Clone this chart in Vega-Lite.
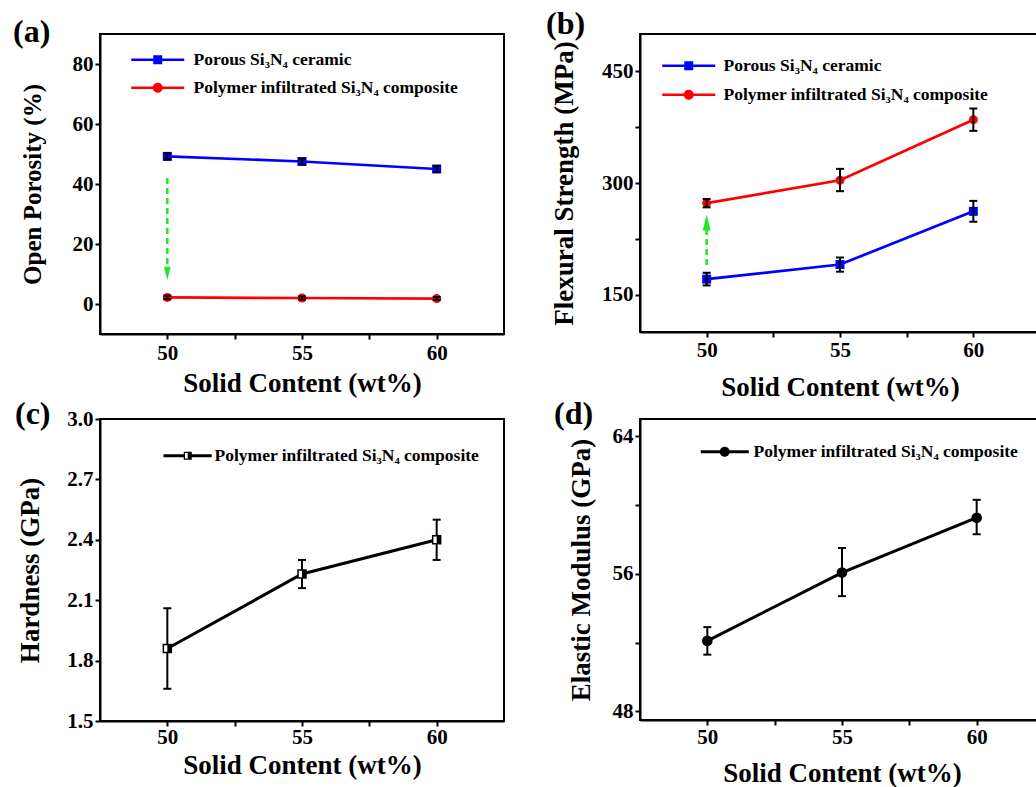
{
  "$schema": "https://vega.github.io/schema/vega-lite/v6.json",
  "background": "white",
  "autosize": {"type": "pad"},
  "padding": {"left": 12, "top": 7, "right": 0, "bottom": 0},
  "columns": 2,
  "spacing": {"row": 85, "column": 136},
  "bounds": "flush",
  "datasets": {
    "pa": [
      {"x": 50, "y": 49.2, "lo": 48.2, "hi": 50.2, "s": "Porous Si₃N₄ ceramic"},
      {"x": 55, "y": 47.5, "lo": 46.6, "hi": 48.4, "s": "Porous Si₃N₄ ceramic"},
      {"x": 60, "y": 45.0, "lo": 44.0, "hi": 46.0, "s": "Porous Si₃N₄ ceramic"},
      {"x": 50, "y": 2.2, "lo": 1.6, "hi": 2.8, "s": "Polymer infiltrated Si₃N₄ composite"},
      {"x": 55, "y": 2.0, "lo": 1.5, "hi": 2.5, "s": "Polymer infiltrated Si₃N₄ composite"},
      {"x": 60, "y": 1.8, "lo": 1.3, "hi": 2.3, "s": "Polymer infiltrated Si₃N₄ composite"}
    ],
    "arrA": [{"x": 50, "y1": 42, "y2": 13, "head": 10.2}],
    "pb": [
      {"x": 50, "y": 171, "lo": 162.5, "hi": 179.5, "s": "Porous Si₃N₄ ceramic"},
      {"x": 55, "y": 190.6, "lo": 181, "hi": 200, "s": "Porous Si₃N₄ ceramic"},
      {"x": 60, "y": 262, "lo": 248, "hi": 276, "s": "Porous Si₃N₄ ceramic"},
      {"x": 50, "y": 273, "lo": 267.3, "hi": 278.5, "s": "Polymer infiltrated Si₃N₄ composite"},
      {"x": 55, "y": 303.7, "lo": 289, "hi": 319, "s": "Polymer infiltrated Si₃N₄ composite"},
      {"x": 60, "y": 385, "lo": 370, "hi": 400, "s": "Polymer infiltrated Si₃N₄ composite"}
    ],
    "arrB": [{"x": 50, "y1": 190, "y2": 240, "head": 247}],
    "pc": [
      {"x": 50, "y": 1.86, "lo": 1.66, "hi": 2.06, "s": "Polymer infiltrated Si₃N₄ composite"},
      {"x": 55, "y": 2.23, "lo": 2.16, "hi": 2.30, "s": "Polymer infiltrated Si₃N₄ composite"},
      {"x": 60, "y": 2.40, "lo": 2.30, "hi": 2.50, "s": "Polymer infiltrated Si₃N₄ composite"}
    ],
    "pd": [
      {"x": 50, "y": 52.1, "lo": 51.3, "hi": 52.9, "s": "Polymer infiltrated Si₃N₄ composite"},
      {"x": 55, "y": 56.07, "lo": 54.7, "hi": 57.5, "s": "Polymer infiltrated Si₃N₄ composite"},
      {"x": 60, "y": 59.26, "lo": 58.3, "hi": 60.3, "s": "Polymer infiltrated Si₃N₄ composite"}
    ]
  },
  "resolve": {"scale": {"color": "independent", "fill": "independent"}, "legend": {"color": "independent", "fill": "independent"}},
  "concat": [
    {
      "width": 404, "height": 300,
      "title": {"text": "(a)", "anchor": "start", "frame": "group", "orient": "top", "offset": -40, "dx": -87, "baseline": "alphabetic"},
      "data": {"name": "pa"},
      "layer": [
        {
          "transform": [{"filter": {"field": "s", "equal": "Porous Si₃N₄ ceramic"}}],
          "mark": {"type": "line", "strokeWidth": 2.7, "color": "#0000ff"},
          "encoding": {
            "x": {"field": "x", "type": "quantitative", "scale": {"domain": [47.5, 62.5], "nice": false, "zero": false},
              "axis": {"values": [50, 52.5, 55, 57.5, 60], "labelExpr": "datum.value % 5 === 0 ? datum.label : ''", "title": "Solid Content (wt%)", "titleFontSize": 27, "titlePadding": 7, "labelPadding": 3,
                "encode": {"ticks": {"y2": {"value": {"expr": "datum.value % 5 === 0 ? 5 : 3"}}}}}},
            "y": {"field": "y", "type": "quantitative", "scale": {"domain": [-10, 90], "nice": false, "zero": false},
              "axis": {"values": [0, 10, 20, 30, 40, 50, 60, 70, 80], "labelExpr": "datum.value % 20 === 0 ? datum.label : ''", "title": "Open Porosity (%)", "titleFontSize": 25, "titlePadding": 27, "labelPadding": 2,
                "encode": {"ticks": {"x2": {"value": {"expr": "datum.value % 20 === 0 ? -5 : -3"}}}}}}
          }
        },
        {
          "transform": [{"filter": {"field": "s", "equal": "Polymer infiltrated Si₃N₄ composite"}}],
          "mark": {"type": "line", "strokeWidth": 2.7, "color": "#ff0000"},
          "encoding": {
            "x": {"field": "x", "type": "quantitative", "scale": {"domain": [47.5, 62.5], "nice": false, "zero": false}},
            "y": {"field": "y", "type": "quantitative", "scale": {"domain": [-10, 90], "nice": false, "zero": false}}
          }
        },
        {
          "transform": [{"filter": {"field": "s", "equal": "Porous Si₃N₄ ceramic"}}],
          "mark": {"type": "point", "filled": true, "shape": "square", "size": 81, "opacity": 1},
          "encoding": {
            "x": {"field": "x", "type": "quantitative", "scale": {"domain": [47.5, 62.5], "nice": false, "zero": false}},
            "y": {"field": "y", "type": "quantitative", "scale": {"domain": [-10, 90], "nice": false, "zero": false}},
            "fill": {"field": "s", "type": "nominal", "scale": {"domain": ["Porous Si₃N₄ ceramic"], "range": ["#0000ff"]},
              "legend": {"orient": "none", "legendX": 49, "legendY": 17, "title": null, "symbolSize": 100, "labelOffset": 27,
                "symbolType": "M-5.3,-0.25H5.3V0.25H-5.3Z M-0.9,-0.9H0.9V0.9H-0.9Z"}}
          }
        },
        {
          "transform": [{"filter": {"field": "s", "equal": "Polymer infiltrated Si₃N₄ composite"}}],
          "mark": {"type": "point", "filled": true, "shape": "circle", "size": 81, "opacity": 1},
          "encoding": {
            "x": {"field": "x", "type": "quantitative", "scale": {"domain": [47.5, 62.5], "nice": false, "zero": false}},
            "y": {"field": "y", "type": "quantitative", "scale": {"domain": [-10, 90], "nice": false, "zero": false}},
            "color": {"field": "s", "type": "nominal", "scale": {"domain": ["Polymer infiltrated Si₃N₄ composite"], "range": ["#ff0000"]},
              "legend": {"orient": "none", "legendX": 49, "legendY": 45, "title": null, "symbolSize": 100, "labelOffset": 27,
                "symbolType": "M-5.3,-0.25H5.3V0.25H-5.3Z M-1,0A1,1,0,1,1,1,0A1,1,0,1,1,-1,0Z"}}
          }
        },
        {
          "mark": {"type": "rule", "color": "black", "strokeWidth": 2},
          "encoding": {
            "x": {"field": "x", "type": "quantitative", "scale": {"domain": [47.5, 62.5], "nice": false, "zero": false}},
            "y": {"field": "lo", "type": "quantitative", "scale": {"domain": [-10, 90], "nice": false, "zero": false}},
            "y2": {"field": "hi"}
          }
        },
        {
          "mark": {"type": "tick", "color": "black", "thickness": 2, "size": 8, "orient": "horizontal", "opacity": 1},
          "encoding": {
            "x": {"field": "x", "type": "quantitative", "scale": {"domain": [47.5, 62.5], "nice": false, "zero": false}},
            "y": {"field": "lo", "type": "quantitative", "scale": {"domain": [-10, 90], "nice": false, "zero": false}}
          }
        },
        {
          "mark": {"type": "tick", "color": "black", "thickness": 2, "size": 8, "orient": "horizontal", "opacity": 1},
          "encoding": {
            "x": {"field": "x", "type": "quantitative", "scale": {"domain": [47.5, 62.5], "nice": false, "zero": false}},
            "y": {"field": "hi", "type": "quantitative", "scale": {"domain": [-10, 90], "nice": false, "zero": false}}
          }
        },
        {
          "data": {"name": "arrA"},
          "mark": {"type": "rule", "color": "#22e622", "strokeWidth": 2.5, "strokeDash": [6, 4]},
          "encoding": {
            "x": {"field": "x", "type": "quantitative", "scale": {"domain": [47.5, 62.5], "nice": false, "zero": false}},
            "y": {"field": "y1", "type": "quantitative", "scale": {"domain": [-10, 90], "nice": false, "zero": false}},
            "y2": {"field": "y2"}
          }
        },
        {
          "data": {"name": "arrA"},
          "mark": {"type": "point", "filled": true, "shape": "M-0.5,-1L0.5,-1L0,1Z", "size": 177, "color": "#22e622", "opacity": 1},
          "encoding": {
            "x": {"field": "x", "type": "quantitative", "scale": {"domain": [47.5, 62.5], "nice": false, "zero": false}},
            "y": {"field": "head", "type": "quantitative", "scale": {"domain": [-10, 90], "nice": false, "zero": false}}
          }
        }
      ]
    },
    {
      "width": 400, "height": 298,
      "title": {"text": "(b)", "anchor": "start", "frame": "group", "orient": "top", "offset": -32, "dx": -94, "baseline": "alphabetic"},
      "data": {"name": "pb"},
      "layer": [
        {
          "transform": [{"filter": {"field": "s", "equal": "Porous Si₃N₄ ceramic"}}],
          "mark": {"type": "line", "strokeWidth": 2.7, "color": "#0000ff"},
          "encoding": {
            "x": {"field": "x", "type": "quantitative", "scale": {"domain": [47.5, 62.5], "nice": false, "zero": false},
              "axis": {"values": [50, 52.5, 55, 57.5, 60], "labelExpr": "datum.value % 5 === 0 ? datum.label : ''", "title": "Solid Content (wt%)", "titleFontSize": 27, "titlePadding": 14, "labelPadding": 2,
                "encode": {"ticks": {"y2": {"value": {"expr": "datum.value % 5 === 0 ? 5 : 3"}}}}}},
            "y": {"field": "y", "type": "quantitative", "scale": {"domain": [100, 500], "nice": false, "zero": false},
              "axis": {"values": [150, 225, 300, 375, 450], "labelExpr": "datum.value % 150 === 0 ? datum.label : ''", "title": "Flexural Strength (MPa)", "titleFontSize": 27, "titlePadding": 23, "labelPadding": 2,
                "encode": {"ticks": {"x2": {"value": {"expr": "datum.value % 150 === 0 ? -5 : -3"}}}}}}
          }
        },
        {
          "transform": [{"filter": {"field": "s", "equal": "Polymer infiltrated Si₃N₄ composite"}}],
          "mark": {"type": "line", "strokeWidth": 2.7, "color": "#ff0000"},
          "encoding": {
            "x": {"field": "x", "type": "quantitative", "scale": {"domain": [47.5, 62.5], "nice": false, "zero": false}},
            "y": {"field": "y", "type": "quantitative", "scale": {"domain": [100, 500], "nice": false, "zero": false}}
          }
        },
        {
          "transform": [{"filter": {"field": "s", "equal": "Porous Si₃N₄ ceramic"}}],
          "mark": {"type": "point", "filled": true, "shape": "square", "size": 81, "opacity": 1},
          "encoding": {
            "x": {"field": "x", "type": "quantitative", "scale": {"domain": [47.5, 62.5], "nice": false, "zero": false}},
            "y": {"field": "y", "type": "quantitative", "scale": {"domain": [100, 500], "nice": false, "zero": false}},
            "fill": {"field": "s", "type": "nominal", "scale": {"domain": ["Porous Si₃N₄ ceramic"], "range": ["#0000ff"]},
              "legend": {"orient": "none", "legendX": 40, "legendY": 23, "title": null, "symbolSize": 100, "labelOffset": 26,
                "symbolType": "M-5.3,-0.25H5.3V0.25H-5.3Z M-0.9,-0.9H0.9V0.9H-0.9Z"}}
          }
        },
        {
          "transform": [{"filter": {"field": "s", "equal": "Polymer infiltrated Si₃N₄ composite"}}],
          "mark": {"type": "point", "filled": true, "shape": "circle", "size": 81, "opacity": 1},
          "encoding": {
            "x": {"field": "x", "type": "quantitative", "scale": {"domain": [47.5, 62.5], "nice": false, "zero": false}},
            "y": {"field": "y", "type": "quantitative", "scale": {"domain": [100, 500], "nice": false, "zero": false}},
            "color": {"field": "s", "type": "nominal", "scale": {"domain": ["Polymer infiltrated Si₃N₄ composite"], "range": ["#ff0000"]},
              "legend": {"orient": "none", "legendX": 40, "legendY": 52, "title": null, "symbolSize": 100, "labelOffset": 26,
                "symbolType": "M-5.3,-0.25H5.3V0.25H-5.3Z M-1,0A1,1,0,1,1,1,0A1,1,0,1,1,-1,0Z"}}
          }
        },
        {
          "mark": {"type": "rule", "color": "black", "strokeWidth": 2},
          "encoding": {
            "x": {"field": "x", "type": "quantitative", "scale": {"domain": [47.5, 62.5], "nice": false, "zero": false}},
            "y": {"field": "lo", "type": "quantitative", "scale": {"domain": [100, 500], "nice": false, "zero": false}},
            "y2": {"field": "hi"}
          }
        },
        {
          "mark": {"type": "tick", "color": "black", "thickness": 2, "size": 8, "orient": "horizontal", "opacity": 1},
          "encoding": {
            "x": {"field": "x", "type": "quantitative", "scale": {"domain": [47.5, 62.5], "nice": false, "zero": false}},
            "y": {"field": "lo", "type": "quantitative", "scale": {"domain": [100, 500], "nice": false, "zero": false}}
          }
        },
        {
          "mark": {"type": "tick", "color": "black", "thickness": 2, "size": 8, "orient": "horizontal", "opacity": 1},
          "encoding": {
            "x": {"field": "x", "type": "quantitative", "scale": {"domain": [47.5, 62.5], "nice": false, "zero": false}},
            "y": {"field": "hi", "type": "quantitative", "scale": {"domain": [100, 500], "nice": false, "zero": false}}
          }
        },
        {
          "data": {"name": "arrB"},
          "mark": {"type": "rule", "color": "#22e622", "strokeWidth": 2.5, "strokeDash": [6, 4]},
          "encoding": {
            "x": {"field": "x", "type": "quantitative", "scale": {"domain": [47.5, 62.5], "nice": false, "zero": false}},
            "y": {"field": "y1", "type": "quantitative", "scale": {"domain": [100, 500], "nice": false, "zero": false}},
            "y2": {"field": "y2"}
          }
        },
        {
          "data": {"name": "arrB"},
          "mark": {"type": "point", "filled": true, "shape": "M-0.5,1L0.5,1L0,-1Z", "size": 250, "color": "#22e622", "opacity": 1},
          "encoding": {
            "x": {"field": "x", "type": "quantitative", "scale": {"domain": [47.5, 62.5], "nice": false, "zero": false}},
            "y": {"field": "head", "type": "quantitative", "scale": {"domain": [100, 500], "nice": false, "zero": false}}
          }
        }
      ]
    },
    {
      "width": 404, "height": 302,
      "title": {"text": "(c)", "anchor": "start", "frame": "group", "orient": "top", "offset": -48, "dx": -85, "baseline": "alphabetic"},
      "data": {"name": "pc"},
      "layer": [
        {
          "mark": {"type": "line", "strokeWidth": 3, "color": "black"},
          "encoding": {
            "x": {"field": "x", "type": "quantitative", "scale": {"domain": [47.5, 62.5], "nice": false, "zero": false},
              "axis": {"values": [50, 52.5, 55, 57.5, 60], "labelExpr": "datum.value % 5 === 0 ? datum.label : ''", "title": "Solid Content (wt%)", "titleFontSize": 27, "titlePadding": 5, "labelPadding": 0,
                "encode": {"ticks": {"y2": {"value": {"expr": "datum.value % 5 === 0 ? 5 : 3"}}}}}},
            "y": {"field": "y", "type": "quantitative", "scale": {"domain": [1.5, 3.0], "nice": false, "zero": false},
              "axis": {"values": [1.5, 1.65, 1.8, 1.95, 2.1, 2.25, 2.4, 2.55, 2.7, 2.85, 3.0], "labelExpr": "round(datum.value * 100) % 30 === 0 ? format(datum.value, '.1f') : ''", "title": "Hardness (GPa)", "titleFontSize": 27, "titlePadding": 22, "labelPadding": 2,
                "encode": {"ticks": {"x2": {"value": {"expr": "round(datum.value * 100) % 30 === 0 ? -5 : -3"}}}}}}
          }
        },
        {
          "mark": {"type": "rule", "color": "black", "strokeWidth": 2},
          "encoding": {
            "x": {"field": "x", "type": "quantitative", "scale": {"domain": [47.5, 62.5], "nice": false, "zero": false}},
            "y": {"field": "lo", "type": "quantitative", "scale": {"domain": [1.5, 3.0], "nice": false, "zero": false}},
            "y2": {"field": "hi"}
          }
        },
        {
          "mark": {"type": "tick", "color": "black", "thickness": 2, "size": 8, "orient": "horizontal", "opacity": 1},
          "encoding": {
            "x": {"field": "x", "type": "quantitative", "scale": {"domain": [47.5, 62.5], "nice": false, "zero": false}},
            "y": {"field": "lo", "type": "quantitative", "scale": {"domain": [1.5, 3.0], "nice": false, "zero": false}}
          }
        },
        {
          "mark": {"type": "tick", "color": "black", "thickness": 2, "size": 8, "orient": "horizontal", "opacity": 1},
          "encoding": {
            "x": {"field": "x", "type": "quantitative", "scale": {"domain": [47.5, 62.5], "nice": false, "zero": false}},
            "y": {"field": "hi", "type": "quantitative", "scale": {"domain": [1.5, 3.0], "nice": false, "zero": false}}
          }
        },
        {
          "mark": {"type": "point", "shape": "square", "filled": true, "fill": "white", "stroke": "black", "strokeWidth": 1.5, "size": 64, "opacity": 1},
          "encoding": {
            "x": {"field": "x", "type": "quantitative", "scale": {"domain": [47.5, 62.5], "nice": false, "zero": false}},
            "y": {"field": "y", "type": "quantitative", "scale": {"domain": [1.5, 3.0], "nice": false, "zero": false}}
          }
        },
        {
          "mark": {"type": "point", "shape": "M0,-1H1V1H0Z", "filled": true, "size": 64, "opacity": 1},
          "encoding": {
            "x": {"field": "x", "type": "quantitative", "scale": {"domain": [47.5, 62.5], "nice": false, "zero": false}},
            "y": {"field": "y", "type": "quantitative", "scale": {"domain": [1.5, 3.0], "nice": false, "zero": false}},
            "color": {"field": "s", "type": "nominal", "scale": {"range": ["black"]},
              "legend": {"orient": "none", "legendX": 79, "legendY": 28, "title": null, "symbolSize": 100, "labelOffset": 18,
                "symbolType": "M-4.86,-0.3H-0.8V0.3H-4.86Z M0.8,-0.3H4.8V0.3H0.8Z M-0.8,-0.8H0.8V0.8H-0.8Z M-0.55,-0.55V0.55H0.55V-0.55Z M0,-0.55H0.55V0.55H0Z"}}
          }
        }
      ]
    },
    {
      "width": 404, "height": 301,
      "title": {"text": "(d)", "anchor": "start", "frame": "group", "orient": "top", "offset": -37, "dx": -86, "baseline": "alphabetic"},
      "data": {"name": "pd"},
      "layer": [
        {
          "mark": {"type": "line", "strokeWidth": 3, "color": "black"},
          "encoding": {
            "x": {"field": "x", "type": "quantitative", "scale": {"domain": [47.5, 62.5], "nice": false, "zero": false},
              "axis": {"values": [50, 52.5, 55, 57.5, 60], "labelExpr": "datum.value % 5 === 0 ? datum.label : ''", "title": "Solid Content (wt%)", "titleFontSize": 27, "titlePadding": 13, "labelPadding": 1,
                "encode": {"ticks": {"y2": {"value": {"expr": "datum.value % 5 === 0 ? 5 : 3"}}}}}},
            "y": {"field": "y", "type": "quantitative", "scale": {"domain": [47.5, 65], "nice": false, "zero": false},
              "axis": {"values": [48, 52, 56, 60, 64], "labelExpr": "datum.value % 8 === 0 ? datum.label : ''", "title": "Elastic Modulus (GPa)", "titleFontSize": 27, "titlePadding": 17, "labelPadding": 2,
                "encode": {"ticks": {"x2": {"value": {"expr": "datum.value % 8 === 0 ? -5 : -3"}}}}}}
          }
        },
        {
          "mark": {"type": "rule", "color": "black", "strokeWidth": 2},
          "encoding": {
            "x": {"field": "x", "type": "quantitative", "scale": {"domain": [47.5, 62.5], "nice": false, "zero": false}},
            "y": {"field": "lo", "type": "quantitative", "scale": {"domain": [47.5, 65], "nice": false, "zero": false}},
            "y2": {"field": "hi"}
          }
        },
        {
          "mark": {"type": "tick", "color": "black", "thickness": 2, "size": 8, "orient": "horizontal", "opacity": 1},
          "encoding": {
            "x": {"field": "x", "type": "quantitative", "scale": {"domain": [47.5, 62.5], "nice": false, "zero": false}},
            "y": {"field": "lo", "type": "quantitative", "scale": {"domain": [47.5, 65], "nice": false, "zero": false}}
          }
        },
        {
          "mark": {"type": "tick", "color": "black", "thickness": 2, "size": 8, "orient": "horizontal", "opacity": 1},
          "encoding": {
            "x": {"field": "x", "type": "quantitative", "scale": {"domain": [47.5, 62.5], "nice": false, "zero": false}},
            "y": {"field": "hi", "type": "quantitative", "scale": {"domain": [47.5, 65], "nice": false, "zero": false}}
          }
        },
        {
          "mark": {"type": "point", "shape": "circle", "filled": true, "size": 113, "opacity": 1},
          "encoding": {
            "x": {"field": "x", "type": "quantitative", "scale": {"domain": [47.5, 62.5], "nice": false, "zero": false}},
            "y": {"field": "y", "type": "quantitative", "scale": {"domain": [47.5, 65], "nice": false, "zero": false}},
            "color": {"field": "s", "type": "nominal", "scale": {"range": ["black"]},
              "legend": {"orient": "none", "legendX": 76, "legendY": 24, "title": null, "symbolSize": 100, "labelOffset": 20,
                "symbolType": "M-4.8,-0.3H4.8V0.3H-4.8Z M-1,0A1,1,0,1,1,1,0A1,1,0,1,1,-1,0Z"}}
          }
        }
      ]
    }
  ],
  "config": {
    "font": "Liberation Serif",
    "view": {"stroke": "black", "strokeWidth": 2},
    "axis": {
      "grid": false, "domainColor": "black", "domainWidth": 2, "tickColor": "black", "tickWidth": 2, "tickSize": 5,
      "labelFont": "Liberation Serif", "labelFontWeight": "bold", "labelFontSize": 21, "labelColor": "black",
      "titleFont": "Liberation Serif", "titleFontWeight": "bold", "titleFontSize": 27, "titleColor": "black"
    },
    "legend": {
      "labelFont": "Liberation Serif", "labelFontWeight": "bold", "labelFontSize": 17.5, "labelColor": "black",
      "labelLimit": 500, "symbolStrokeWidth": 0, "padding": 0
    },
    "title": {"font": "Liberation Serif", "fontWeight": "bold", "fontSize": 32, "color": "black"}
  }
}
